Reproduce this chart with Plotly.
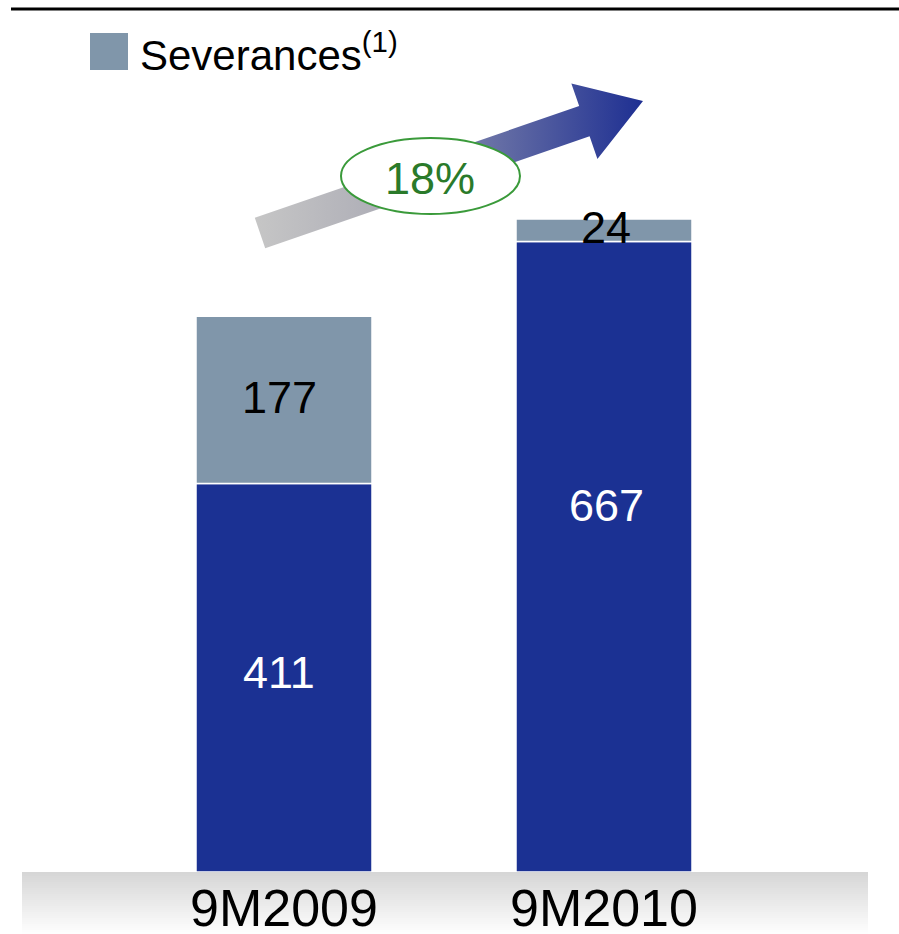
import plotly.graph_objects as go
import math

# ---------------- data ----------------
categories = ["9M2009", "9M2010"]
base_values = [411, 667]
severances = [177, 24]
growth_label = "18%"
legend_label = "Severances<sup>(1)</sup>"

# ---------------- layout geometry (pixels) ----------------
W, H = 899, 934
ML, MR, MT, MB = 124, 135, 10, 62
PW, PH = W - ML - MR, H - MT - MB
YMAX = 912

BLUE = "#1b3193"
GREYBLUE = "#8096aa"
FONT = "Liberation Sans, Arial, sans-serif"


def px(x):
    return (x - ML) / PW


def py(y):
    return (H - MB - y) / PH


fig = go.Figure()

fig.add_trace(go.Bar(
    x=categories, y=base_values, name="Base",
    marker=dict(color=BLUE, line=dict(color="white", width=1.5)),
    showlegend=False, hoverinfo="skip",
))
fig.add_trace(go.Bar(
    x=categories, y=severances, base=base_values, name="Severances",
    marker=dict(color=GREYBLUE, line=dict(color="white", width=1.5)),
    showlegend=False, hoverinfo="skip",
))

# value labels
base_yshift = [5, 51]
sev_yshift = [2, 3]
label_xshift = [-5, 2]
for i, c in enumerate(categories):
    fig.add_annotation(x=c, y=base_values[i] / 2, text=str(base_values[i]),
                       showarrow=False, yshift=base_yshift[i], xshift=label_xshift[i],
                       font=dict(family=FONT, size=45, color="white"))
    fig.add_annotation(x=c, y=base_values[i] + severances[i] / 2, text=str(severances[i]),
                       showarrow=False, yshift=sev_yshift[i], xshift=label_xshift[i],
                       font=dict(family=FONT, size=45, color="black"))

# ---------------- gradient arrow (decoration, pixel coords on overlay axes) ----------------
T = (260.0, 233.0)
P = (643.0, 101.0)
dx, dy = P[0] - T[0], P[1] - T[1]
L = math.hypot(dx, dy)
ux, uy = dx / L, dy / L
nx, ny = -uy, ux
sw, hw, hl = 16.0, 40.0, 62.0
B = (P[0] - hl * ux, P[1] - hl * uy)
pts = [
    (T[0] - sw * nx, T[1] - sw * ny),
    (B[0] - sw * nx, B[1] - sw * ny),
    (B[0] - hw * nx, B[1] - hw * ny),
    P,
    (B[0] + hw * nx, B[1] + hw * ny),
    (B[0] + sw * nx, B[1] + sw * ny),
    (T[0] + sw * nx, T[1] + sw * ny),
    (T[0] - sw * nx, T[1] - sw * ny),
]
fig.add_trace(go.Scatter(
    x=[p[0] for p in pts], y=[p[1] for p in pts],
    xaxis="x2", yaxis="y2", mode="lines", fill="toself",
    line=dict(width=0, color="rgba(0,0,0,0)"),
    fillgradient=dict(type="horizontal", start=254, stop=643,
                      colorscale=[[0, "#c6c6c6"], [0.3, "#b0b0b8"], [0.6, "#6a72a6"], [1, "#1e2f92"]]),
    showlegend=False, hoverinfo="skip",
))

shapes = []
# ellipse
shapes.append(dict(type="circle", xref="x2", yref="y2", x0=341, x1=520, y0=138, y1=214,
                   fillcolor="white", line=dict(color="#3a9a3a", width=2), layer="above"))
# top rule
shapes.append(dict(type="line", xref="paper", yref="paper", x0=px(11), x1=px(899), y0=py(9), y1=py(9),
                   line=dict(color="black", width=3)))
# legend swatch
shapes.append(dict(type="rect", xref="paper", yref="paper", x0=px(90), x1=px(128), y0=py(70), y1=py(33),
                   fillcolor=GREYBLUE, line=dict(width=0)))
# bottom gradient band
n = 31
for k in range(n):
    y0 = 872 + k * 2
    t = k / (n - 1)
    g = int(round(214 + (254 - 214) * t))
    shapes.append(dict(type="rect", xref="paper", yref="paper", x0=px(22), x1=px(868),
                       y0=py(y0 + 2), y1=py(y0), fillcolor=f"rgb({g},{g},{g})",
                       line=dict(width=0), layer="below"))

fig.add_annotation(xref="x2", yref="y2", x=430, y=178, text=growth_label, showarrow=False,
                   font=dict(family=FONT, size=45, color="#2a7a2a"))
fig.add_annotation(xref="paper", yref="paper", x=px(138), y=py(52), text=legend_label,
                   xanchor="left", yanchor="middle", showarrow=False,
                   font=dict(family=FONT, size=42, color="black"))

fig.update_layout(
    width=W, height=H,
    margin=dict(l=ML, r=MR, t=MT, b=MB, autoexpand=False),
    paper_bgcolor="white", plot_bgcolor="rgba(0,0,0,0)",
    barmode="overlay", bargap=0.45,
    shapes=shapes,
    showlegend=False,
    xaxis=dict(range=[-0.5, 1.5], showgrid=False, zeroline=False, showline=False, ticks="",
               tickfont=dict(family=FONT, size=52, color="black"), automargin=False,
               ticklabelstandoff=1),
    yaxis=dict(range=[0, YMAX], visible=False),
    xaxis2=dict(overlaying="x", range=[ML, W - MR], visible=False),
    yaxis2=dict(overlaying="y", range=[H - MB, MT], visible=False),
)

fig.write_html("out.html", config={"displayModeBar": False},
               post_script="document.body.style.margin='0px';document.body.style.overflow='hidden';")
